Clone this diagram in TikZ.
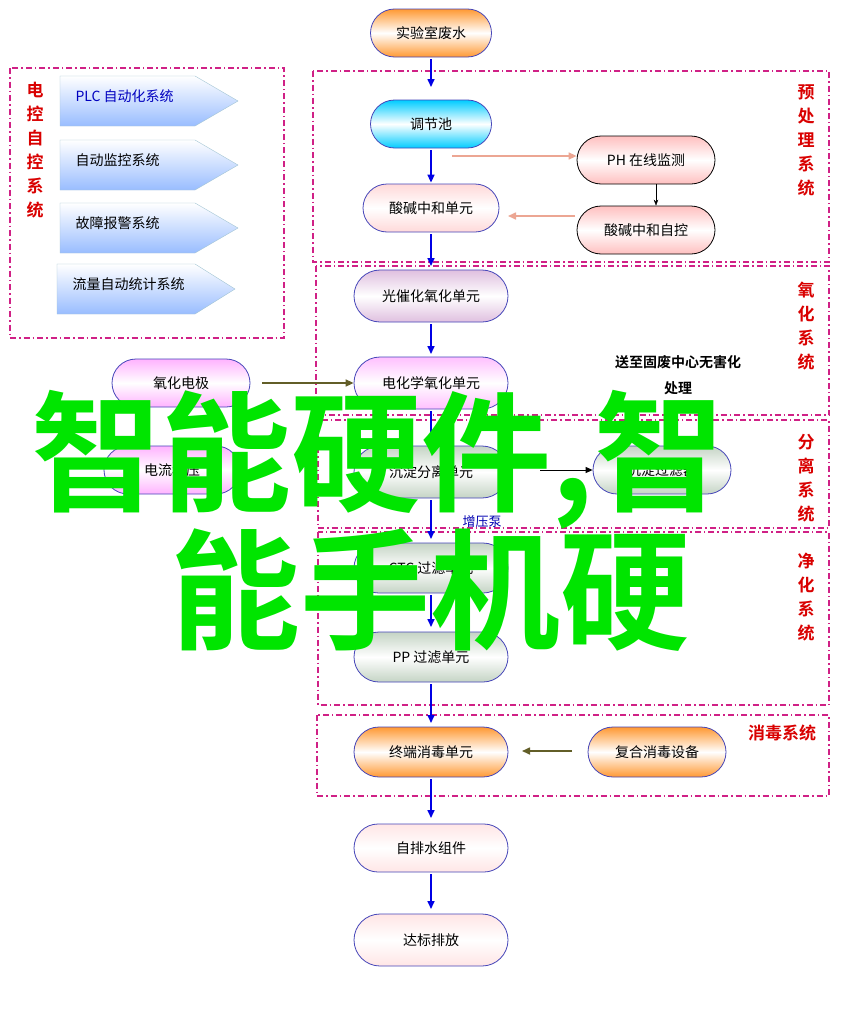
\documentclass[tikz,border=0pt]{standalone}
\usepackage{fontspec}
\setmainfont{Noto Sans CJK SC}
\newfontfamily\cjkb{Noto Sans CJK SC Bold}
\usetikzlibrary{shapes.misc,arrows.meta}
\begin{document}
\begin{tikzpicture}[x=1pt,y=-1pt,
  pill/.style={rounded rectangle,draw=blue!45!gray,thick,minimum height=48pt,font=\fontsize{14}{16}\selectfont,inner sep=2pt},
  grad/.style={shading=axis,top color=#1,bottom color=#1,middle color=white},
  dbox/.style={draw=magenta!70!violet,dash pattern=on 6pt off 3pt on 1.5pt off 3pt,line width=1.5pt},
  flow/.style={draw=blue!90!black,line width=1.6pt,-{Triangle[length=8pt,width=7pt]},shorten >=1pt,shorten <=2pt},
  red lab/.style={text=red!85!black,font=\cjkb\fontsize{17}{24}\selectfont,align=center},
  pent/.style={draw=cyan!40!gray!60,shading=axis,top color=white,bottom color=cyan!35!blue!40,shading angle=0},
  ptxt/.style={anchor=west,font=\fontsize{14}{16}\selectfont}]
\useasboundingbox (0,0) rectangle (841,1017);
\fill[white] (0,0) rectangle (841,1017);
% dashed boxes
\draw[dbox] (10,68) rectangle (284,338);
\draw[dbox] (313,71) rectangle (829,262);
\draw[dbox] (316,266) rectangle (829,415);
\draw[dbox] (318,420) rectangle (829,528);
\draw[dbox] (318,532) rectangle (829,705);
\draw[dbox] (317,715) rectangle (829,796);
% labels
\node[red lab] (l1) at (35,150) {电\\控\\自\\控\\系\\统};
\node[red lab] (l2) at (806,140) {预\\处\\理\\系\\统};
\node[red lab] (l3) at (806,326) {氧\\化\\系\\统};
\node[red lab] (l4) at (806,478) {分\\离\\系\\统};
\node[red lab] (l5) at (806,597) {净\\化\\系\\统};
\node[red lab] (l6) at (782,733) {消毒系统};
% pentagons
\foreach \y/\x/\t/\c [count=\i] in {76/60/PLC 自动化系统/blue!75!black,140/60/自动监控系统/black,203/60/故障报警系统/black,264/57/流量自动统计系统/black}{
  \path[pent] (\x,\y) -- (195,\y) -- (238+\x-60,\y+25) -- (195,\y+50) -- (\x,\y+50) -- cycle;
  \node[ptxt,text=\c] (p\i) at (\x+12,\y+20) {\t};
}
% main nodes
\node[pill,grad=orange!80,minimum width=125pt] (n1) at (431,33) {实验室废水};
\node[pill,grad=cyan!80!blue,minimum width=125pt] (n2) at (431,124) {调节池};
\node[pill,grad=red!15,minimum width=140pt] (n3) at (431,208) {酸碱中和单元};
\node[pill,grad=red!25,minimum width=142pt,draw=black] (ph) at (646,160) {PH 在线监测};
\node[pill,grad=red!25,minimum width=142pt,draw=black] (zk) at (646,230) {酸碱中和自控};
\node[pill,grad=violet!25,minimum width=158pt,minimum height=52pt] (n4) at (431,296) {光催化氧化单元};
\node[pill,grad=magenta!25,minimum width=158pt,minimum height=52pt] (n5) at (431,383) {电化学氧化单元};
\node[pill,grad=magenta!30,minimum width=142pt] (el) at (181,383) {氧化电极};
\node[pill,grad=magenta!30,minimum width=140pt] (wy) at (172,470) {电流稳压};
\node[pill,grad=green!15!gray!40,minimum width=158pt,minimum height=52pt] (n6) at (431,472) {沉淀分离单元};
\node[pill,grad=green!15!gray!40,minimum width=142pt] (cd) at (662,470) {沉淀过滤器};
\node[pill,grad=green!15!gray!40,minimum width=158pt,minimum height=50pt] (n7) at (431,568) {CTC 过滤单元};
\node[pill,grad=green!15!gray!40,minimum width=158pt,minimum height=50pt] (n8) at (431,657) {PP 过滤单元};
\node[pill,grad=orange!80,minimum width=158pt,minimum height=50pt] (n9) at (431,752) {终端消毒单元};
\node[pill,grad=orange!80,minimum width=142pt,minimum height=50pt] (fh) at (657,752) {复合消毒设备};
\node[pill,grad=red!10,minimum width=158pt] (n10) at (431,848) {自排水组件};
\node[pill,grad=red!10,minimum width=158pt,minimum height=52pt] (n11) at (431,940) {达标排放};
\node[font=\cjkb\fontsize{14}{26}\selectfont,align=center] (gf) at (678,375) {送至固废中心无害化\\处理};
\node[text=blue!70!black,font=\fontsize{13}{15}\selectfont] (zy) at (482,522) {增压泵};
% flow arrows
\draw[flow] (n1) -- (431,88);
\draw[flow] (431,148) -- (n3);
\draw[flow] (n3) -- (431,267);
\draw[flow] (n4) -- (431,355);
\draw[flow] (n5) -- (431,445);
\draw[flow] (n6) -- (431,540);
\draw[flow] (n7) -- (431,628);
\draw[flow] (n8) -- (431,724);
\draw[flow] (n9) -- (431,819);
\draw[flow] (n10) -- (431,910);
\coordinate (c1) at (452,156);
\coordinate (c2) at (575,216);
\coordinate (c3) at (262,383);
\coordinate (c4) at (572,751);
\coordinate (c5) at (540,470);
\draw[red!40!brown!50,line width=1.6pt,-{Triangle[length=8pt,width=7pt]}] (c1) -- (ph.west|-c1);
\draw[red!40!brown!50,line width=1.6pt,-{Triangle[length=8pt,width=7pt]}] (c2) -- (508,216);
\draw[black,-{Stealth[length=6pt]}] (ph.south-|656,0) -- (zk.north-|656,0);
\draw[olive!60!black,line width=1.6pt,-{Triangle[length=8pt,width=7pt]}] (c3) -- (n5.west);
\draw[black,line width=1pt,-{Triangle[length=7pt,width=6pt]}] (c5) -- (cd.west);
\draw[olive!60!black,line width=1.6pt,-{Triangle[length=8pt,width=7pt]}] (c4) -- (522,751);
% overlay
\node[text=green!90!black,font=\cjkb\fontsize{130}{130}\selectfont,anchor=center] (g1) at (378,460) {智能硬件,智};
\node[text=green!90!black,font=\cjkb\fontsize{130}{130}\selectfont,anchor=center] (g2) at (430,590) {能手机硬};
\end{tikzpicture}
\end{document}
